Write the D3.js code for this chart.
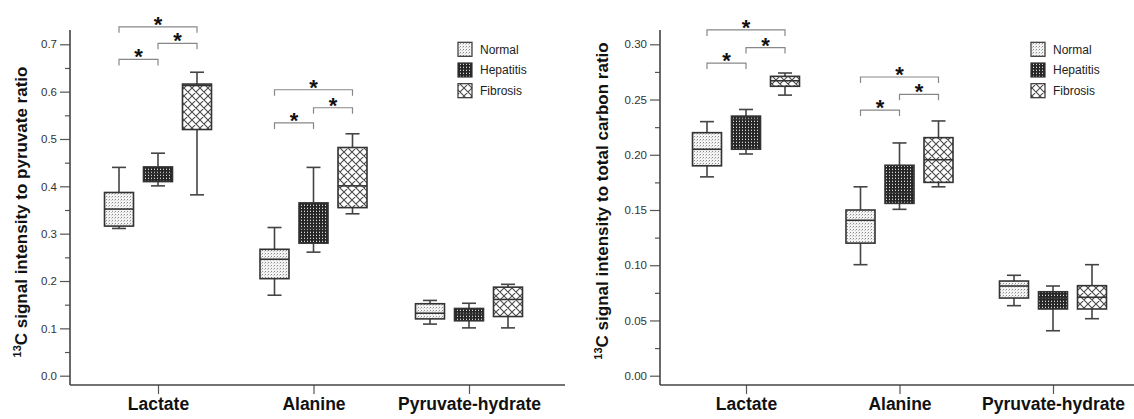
<!DOCTYPE html>
<html>
<head>
<meta charset="utf-8">
<script src="https://cdn.jsdelivr.net/npm/d3@7/dist/d3.min.js"></script>
<style>
  html, body { margin: 0; padding: 0; background: #fff; }
  svg { display: block; font-family: "Liberation Sans", Arial, sans-serif; }
</style>
</head>
<body>
<svg id="chart" width="1134" height="419"></svg>
<script>
// ---------- DATA ----------
const categories = ["Lactate", "Alanine", "Pyruvate-hydrate"];
const groups = ["Normal", "Hepatitis", "Fibrosis"];

// box stats per category: [whiskerLow, q1, median, q3, whiskerHigh]
const pyruvateNormal    = [[0.311, 0.316, 0.352, 0.387, 0.440], [0.170, 0.205, 0.246, 0.267, 0.313], [0.109, 0.120, 0.132, 0.152, 0.159]];
const pyruvateHepatitis = [[0.401, 0.410, 0.427, 0.441, 0.470], [0.261, 0.280, 0.311, 0.365, 0.440], [0.101, 0.116, 0.130, 0.142, 0.153]];
const pyruvateFibrosis  = [[0.382, 0.520, 0.613, 0.616, 0.641], [0.342, 0.355, 0.401, 0.482, 0.511], [0.101, 0.125, 0.161, 0.187, 0.193]];

const carbonNormal    = [[0.180, 0.190, 0.205, 0.220, 0.230], [0.1005, 0.120, 0.1407, 0.150, 0.171], [0.0634, 0.0703, 0.0812, 0.0857, 0.0909]];
const carbonHepatitis = [[0.2007, 0.205, 0.232, 0.235, 0.241], [0.1506, 0.156, 0.1657, 0.1905, 0.2107], [0.0407, 0.0604, 0.0703, 0.076, 0.0812]];
const carbonFibrosis  = [[0.254, 0.262, 0.267, 0.271, 0.274], [0.171, 0.175, 0.1955, 0.2155, 0.2306], [0.0516, 0.0604, 0.071, 0.0815, 0.1005]];

// significance brackets: [category, fromGroup, toGroup, level]
const pyruvateBrackets = [
  ["Lactate", "Normal", "Hepatitis", 0.668], ["Lactate", "Hepatitis", "Fibrosis", 0.702], ["Lactate", "Normal", "Fibrosis", 0.737],
  ["Alanine", "Normal", "Hepatitis", 0.534], ["Alanine", "Hepatitis", "Fibrosis", 0.566], ["Alanine", "Normal", "Fibrosis", 0.604]
];
const carbonBrackets = [
  ["Lactate", "Normal", "Hepatitis", 0.283], ["Lactate", "Hepatitis", "Fibrosis", 0.297], ["Lactate", "Normal", "Fibrosis", 0.313],
  ["Alanine", "Normal", "Hepatitis", 0.2405], ["Alanine", "Hepatitis", "Fibrosis", 0.2547], ["Alanine", "Normal", "Fibrosis", 0.2704]
];

const pyruvateTicks = [0.0, 0.1, 0.2, 0.3, 0.4, 0.5, 0.6, 0.7];
const pyruvateMinor = [0.05, 0.15, 0.25, 0.35, 0.45, 0.55, 0.65];
const carbonTicks = [0.00, 0.05, 0.10, 0.15, 0.20, 0.25, 0.30];
const carbonMinor = [0.025, 0.075, 0.125, 0.175, 0.225, 0.275];

// ---------- DRAW ----------
const svg = d3.select("#chart");
const defs = svg.append("defs");

// Normal: fine light dots
const pN = defs.append("pattern").attr("id", "pNormal").attr("patternUnits", "userSpaceOnUse").attr("width", 3).attr("height", 3);
pN.append("rect").attr("width", 3).attr("height", 3).attr("fill", "#f4f4f4");
pN.append("rect").attr("x", 1).attr("y", 1).attr("width", 1).attr("height", 1).attr("fill", "#8a8a8a");
pN.append("rect").attr("x", 0).attr("y", 2).attr("width", 1).attr("height", 1).attr("fill", "#c8c8c8");

// Hepatitis: dark with small white dots
const pH = defs.append("pattern").attr("id", "pHepatitis").attr("patternUnits", "userSpaceOnUse").attr("width", 3).attr("height", 3);
pH.append("rect").attr("width", 3).attr("height", 3).attr("fill", "#262626");
pH.append("rect").attr("x", 1).attr("y", 1).attr("width", 1).attr("height", 1).attr("fill", "#d8d8d8");
pH.append("rect").attr("x", 1).attr("y", 0).attr("width", 1).attr("height", 1).attr("fill", "#5a5a5a");

// Fibrosis: diagonal crosshatch
const pF = defs.append("pattern").attr("id", "pFibrosis").attr("patternUnits", "userSpaceOnUse").attr("width", 8).attr("height", 8);
pF.append("rect").attr("width", 8).attr("height", 8).attr("fill", "#fff");
pF.append("path").attr("d", "M0,0L8,8M8,0L0,8M-1,7L1,9M7,-1L9,1M-1,1L1,-1M7,9L9,7")
  .attr("stroke", "#4a4a4a").attr("stroke-width", 1.1).attr("fill", "none");

const fills = { Normal: "url(#pNormal)", Hepatitis: "url(#pHepatitis)", Fibrosis: "url(#pFibrosis)" };

function panel(opts) {
  const g = svg.append("g");
  const y = d3.scaleLinear().domain(opts.yDomain).range([375.7, 44.3]);
  const x = d3.scalePoint().domain(categories).range(opts.xRange);
  const sub = d3.scalePoint().domain(groups).range([-39, 39]);
  const axisTop = 30, axisBottom = 385;

  // y axis
  const ya = g.append("g").attr("transform", `translate(${opts.axisX},0)`)
    .call(d3.axisLeft(y).tickValues(opts.ticks).tickFormat(d3.format(opts.fmt)).tickSize(10).tickPadding(3));
  ya.select(".domain").remove();
  ya.selectAll(".tick line").attr("stroke", "#555").attr("stroke-width", 1.2);
  ya.selectAll(".tick text").attr("fill", "#333").style("font-size", "11.5px").style("font-family", "'Liberation Sans', Arial, sans-serif");
  const ym = g.append("g").attr("transform", `translate(${opts.axisX},0)`)
    .call(d3.axisLeft(y).tickValues(opts.minor).tickFormat("").tickSize(5));
  ym.select(".domain").remove();
  ym.selectAll(".tick line").attr("stroke", "#555").attr("stroke-width", 1.2);

  g.append("line").attr("x1", opts.axisX).attr("x2", opts.axisX).attr("y1", axisTop).attr("y2", axisBottom)
    .attr("stroke", "#444").attr("stroke-width", 1.6);

  // x axis
  const xa = g.append("g").attr("transform", `translate(0,${axisBottom})`)
    .call(d3.axisBottom(x).tickSize(9).tickPadding(6));
  xa.select(".domain").remove();
  xa.selectAll(".tick line").attr("stroke", "#555").attr("stroke-width", 1.2);
  xa.selectAll(".tick text").attr("fill", "#111").attr("dy", "0.71em").attr("y", 13)
    .style("font-size", "17.5px").style("font-weight", "bold").style("font-family", "'Liberation Sans', Arial, sans-serif");
  g.append("line").attr("x1", opts.axisX).attr("x2", opts.xEnd).attr("y1", axisBottom).attr("y2", axisBottom)
    .attr("stroke", "#444").attr("stroke-width", 1.6);

  // y label
  const lab = g.append("text")
    .attr("transform", `translate(${opts.labelX},${opts.labelY}) rotate(-90)`)
    .attr("text-anchor", "middle").attr("fill", "#111")
    .style("font-size", "17px").style("font-weight", "bold");
  lab.append("tspan").text("13").style("font-size", "11px").attr("dy", "-6");
  lab.append("tspan").text("C signal intensity to " + opts.labelTail).attr("dy", "6");

  // boxes
  const boxW = 29, capW = 14;
  groups.forEach((grp, gi) => {
    opts.data[gi].forEach((s, ci) => {
      const cx = x(categories[ci]) + sub(grp);
      const [lo, q1, med, q3, hi] = s;
      const bg = g.append("g");
      bg.append("line").attr("x1", cx).attr("x2", cx).attr("y1", y(hi)).attr("y2", y(q3)).attr("stroke", "#444").attr("stroke-width", 1.6);
      bg.append("line").attr("x1", cx).attr("x2", cx).attr("y1", y(q1)).attr("y2", y(lo)).attr("stroke", "#444").attr("stroke-width", 1.6);
      bg.append("line").attr("x1", cx - capW / 2).attr("x2", cx + capW / 2).attr("y1", y(hi)).attr("y2", y(hi)).attr("stroke", "#444").attr("stroke-width", 1.6);
      bg.append("line").attr("x1", cx - capW / 2).attr("x2", cx + capW / 2).attr("y1", y(lo)).attr("y2", y(lo)).attr("stroke", "#444").attr("stroke-width", 1.6);
      bg.append("rect").attr("x", cx - boxW / 2).attr("y", y(q3)).attr("width", boxW).attr("height", y(q1) - y(q3))
        .attr("fill", fills[grp]).attr("stroke", "#333").attr("stroke-width", 1.6);
      bg.append("line").attr("x1", cx - boxW / 2).attr("x2", cx + boxW / 2).attr("y1", y(med)).attr("y2", y(med)).attr("stroke", "#333").attr("stroke-width", 1.6);
    });
  });

  // brackets
  opts.brackets.forEach(b => {
    const [cat, g1, g2, lvl] = b;
    const x1 = x(cat) + sub(g1), x2 = x(cat) + sub(g2), yy = y(lvl);
    g.append("path").attr("d", `M${x1},${yy + 6}V${yy}H${x2}V${yy + 6}`)
      .attr("fill", "none").attr("stroke", "#888").attr("stroke-width", 1.2);
    g.append("text").attr("x", (x1 + x2) / 2).attr("y", yy + 5).attr("text-anchor", "middle")
      .attr("fill", "#111").style("font-size", "22px").style("font-weight", "bold").text("*");
  });

  // legend
  const lg = g.append("g");
  groups.forEach((grp, i) => {
    const cy = 49.3 + i * 20.7;
    lg.append("rect").attr("x", opts.legendX).attr("y", cy - 7).attr("width", 14).attr("height", 14)
      .attr("fill", fills[grp]).attr("stroke", "#333").attr("stroke-width", 1.2);
    lg.append("text").attr("x", opts.legendX + 22).attr("y", cy + 4.3).attr("fill", "#222")
      .style("font-size", "12px").text(grp);
  });
}

panel({
  yDomain: [0, 0.7], xRange: [158, 469], axisX: 70, xEnd: 565,
  ticks: pyruvateTicks, minor: pyruvateMinor, fmt: ".1f",
  labelX: 27, labelY: 212, labelTail: "pyruvate ratio",
  data: [pyruvateNormal, pyruvateHepatitis, pyruvateFibrosis],
  brackets: pyruvateBrackets, legendX: 458
});

panel({
  yDomain: [0, 0.3], xRange: [746, 1053], axisX: 660, xEnd: 1134,
  ticks: carbonTicks, minor: carbonMinor, fmt: ".2f",
  labelX: 608, labelY: 201, labelTail: "total carbon ratio",
  data: [carbonNormal, carbonHepatitis, carbonFibrosis],
  brackets: carbonBrackets, legendX: 1031
});
</script>
</body>
</html>
